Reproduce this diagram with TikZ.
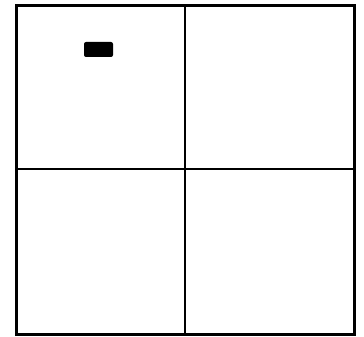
\documentclass[tikz,border=0pt]{standalone}
\usepackage{tikz}
\usetikzlibrary{positioning}

\begin{document}
\begin{tikzpicture}[x=1pt,y=-1pt,frame/.style={line width=3pt},split/.style={line width=1.8pt},mark box/.style={fill=black,rounded corners=2pt}]
  \useasboundingbox (0,0) rectangle (364,337);
  \coordinate (nw) at (16.5,5.5);
  \coordinate (se) at (354.5,334.5);
  \draw[split] (185,5.5) -- (185,334.5);
  \draw[split] (16.5,169) -- (354.5,169);
  \draw[frame] (nw) rectangle (se);
  \fill[mark box] (84,42) rectangle (113,57);
\end{tikzpicture}
\end{document}
